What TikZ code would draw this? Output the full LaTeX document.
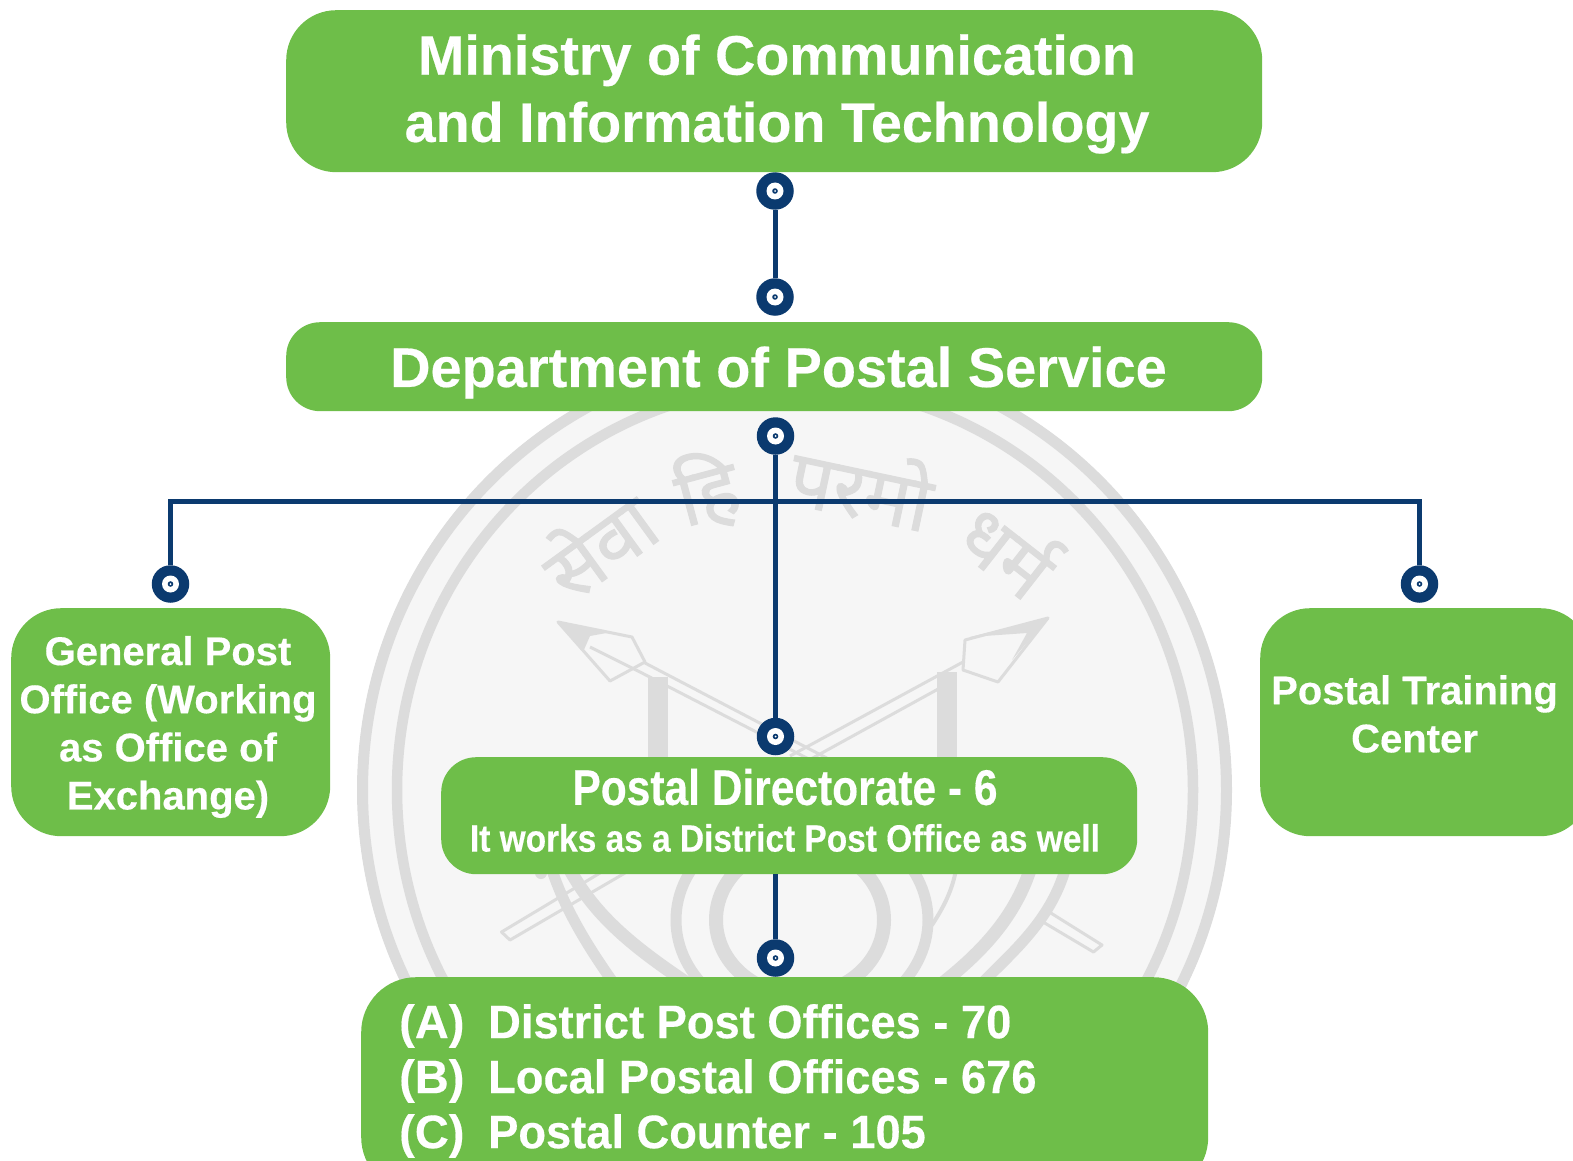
\documentclass[tikz,border=0pt]{standalone}
\usepackage{fontspec}
\setmainfont[BoldFeatures={FakeBold=0.35}]{Liberation Sans}
\newfontfamily\devfont[Script=Devanagari,FakeBold=1.2]{Noto Sans}
\definecolor{boxgreen}{HTML}{6EBE49}
\definecolor{navyline}{HTML}{0B3A6F}
\definecolor{wmgray}{HTML}{DCDCDC}
\definecolor{wmfill}{HTML}{F6F6F6}
\newcommand{\sz}[1]{\fontsize{#1}{#1}\selectfont}
\tikzset{
  greenbox/.style={draw=none,fill=boxgreen,rectangle,inner sep=0pt,anchor=north west},
  label/.style={text=white,align=center,inner sep=0pt},
  hub/.style={circle,fill=navyline,minimum size=37.5pt,inner sep=0pt,
    path picture={
      \fill[white] (path picture bounding box.center) circle (8.5pt);
      \fill[navyline] (path picture bounding box.center) circle (2.8pt);
      \fill[white] (path picture bounding box.center) circle (1pt);}},
  link/.style={draw=navyline,line width=5pt},
  wmthin/.style={draw=wmgray,line width=3pt,line join=round},
  wmthick/.style={draw=wmgray,line width=20pt},
  wmband/.style={draw=wmgray,line width=12pt},
  wmword/.style={text=wmgray,font=\devfont\sz{78},inner sep=0pt}
}
\begin{document}
\begin{tikzpicture}[x=1pt,y=-1pt]
\useasboundingbox (0,0) rectangle (1573,1161);
\clip (0,0) rectangle (1573,1161);
% watermark emblem
\fill[wmfill] (794.5,790) ellipse (437 and 441);
\draw[wmgray,line width=11pt] (794.5,790) ellipse (432 and 436);
\draw[wmgray,line width=10.5pt] (795,790) ellipse (398 and 405);
\node[wmword,rotate=36] (wm1) at (597,543) {सेवा};
\node[wmword,rotate=15] (wm2) at (707,491) {हि};
\node[wmword,rotate=-12] (wm3) at (862,484) {परमो};
\node[wmword,rotate=-38] (wm4) at (1010,547) {धर्म};
% staffs
\draw[wmthick] (657.5,677) -- (657.5,770);
\draw[wmthick] (947,672) -- (947,770);
% left spear
\draw[wmthin] (558,622) -- (632,637) -- (645,662) -- (610,681) -- cycle;
\fill[wmgray] (558,622) -- (612,632) -- (590,636) -- (583,652) -- cycle;
\draw[wmthin] (590,647) -- (640,672) -- (830,770);
\draw[wmthin] (645,663) -- (840,765);
\draw[wmthin] (600,873) -- (501.5,932) -- (510,940) -- (625,873);
% right spear
\draw[wmthin] (1048,618) -- (965,640) -- (963,670) -- (998,682) -- cycle;
\fill[wmgray] (1048,618) -- (970,637) -- (1027,633) -- (1012,660) -- cycle;
\draw[wmthin] (963,662) -- (790,756);
\draw[wmthin] (940,688) -- (800,765);
\draw[wmthin] (1046,910) -- (1102,945) -- (1093.5,952) -- (1043,922);
% shield
\fill[wmgray] (541,873) circle (6);
\draw[wmband,line width=11pt] (552,870) .. controls (565,910) and (590,950) .. (615,985);
\draw[wmband,line width=13pt] (570,870) .. controls (595,915) and (630,945) .. (690,985);
\draw[wmband,line width=11pt] (1065,870) .. controls (1050,920) and (1015,950) .. (980,985);
\draw[wmband,line width=13pt] (1030,870) .. controls (1015,915) and (985,950) .. (940,985);
\draw[wmband,line width=14pt] (800,920) ellipse (84 and 75);
\draw[wmband,line width=11pt] (802,920) ellipse (126 and 105);
\draw[wmgray,line width=4pt] (956,870) .. controls (952,890) and (945,905) .. (932,925);
% hubs
\node[hub] (h1) at (775,191) {};
\node[hub] (h2) at (775,297) {};
\node[hub] (h3) at (775.5,436) {};
\node[hub] (h4) at (170.5,584) {};
\node[hub] (h5) at (1419.5,584) {};
\node[hub] (h6) at (775.5,736.5) {};
\node[hub] (h7) at (775.5,958) {};
\coordinate (bar) at (775.5,501);
% boxes
\node[greenbox,minimum width=976pt,minimum height=162pt,rounded corners=50pt] (ministry) at (286,10) {};
\node[greenbox,minimum width=976pt,minimum height=89pt,rounded corners=34pt] (dept) at (286,322) {};
\node[greenbox,minimum width=319pt,minimum height=228pt,rounded corners=50pt] (gpo) at (11,608) {};
\node[greenbox,minimum width=330pt,minimum height=228pt,rounded corners=50pt] (ptc) at (1260,608) {};
\node[greenbox,minimum width=696pt,minimum height=117pt,rounded corners=35pt] (dir) at (441,757) {};
\node[greenbox,minimum width=847pt,minimum height=215pt,rounded corners=55pt] (offices) at (361,977) {};
% connectors
\draw[link] (h1) -- (h2);
\draw[link] (h3) -- (h6);
\draw[link] (h4) |- (bar) -| (h5);
\draw[link] (h7 |- dir.south) -- (h7);
% texts
\node[label,font=\bfseries\fontsize{55.7}{67.2}\selectfont] (tministry) at (777,94) {Ministry of Communication\\and Information Technology};
\node[label,font=\bfseries\sz{55.9}] (tdept) at (778.5,372.5) {Department of Postal Service};
\node[label,font=\bfseries\fontsize{40}{48.15}\selectfont] (tgpo) at (168,727) {General Post\\Office (Working\\as Office of\\Exchange)};
\node[label,font=\bfseries\fontsize{40}{48.15}\selectfont] (tptc) at (1414.5,714) {Postal Training\\Center};
\node[label,font=\bfseries\sz{50}] (tdir1) at (785,787) {\scalebox{.85}[1]{Postal Directorate - 6}};
\node[label,font=\bfseries\sz{38}] (tdir2) at (785,838) {\scalebox{.88}[1]{It works as a District Post Office as well}};
\node[label,align=left,anchor=west,font=\bfseries\fontsize{47}{55}\selectfont] (toffices) at (399,1081)
  {\makebox[89pt][l]{(A)}\scalebox{.963}[1]{District Post Offices - 70}\\\makebox[89pt][l]{(B)}\scalebox{.963}[1]{Local Postal Offices - 676}\\\makebox[89pt][l]{(C)}\scalebox{.963}[1]{Postal Counter - 105}};
\end{tikzpicture}
\end{document}
